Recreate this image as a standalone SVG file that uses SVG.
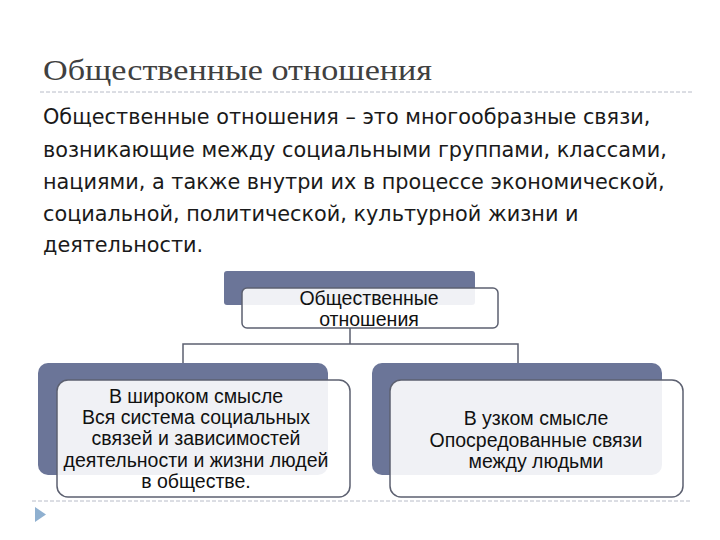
<svg xmlns="http://www.w3.org/2000/svg" width="720" height="540" viewBox="0 0 720 540">
<style>
.title{font-family:"Liberation Serif","DejaVu Serif",serif;font-size:30px;fill:#404040}
.body{font-family:"DejaVu Sans","Noto Sans",sans-serif;font-size:20.8px;fill:#1a1a1a}
.nt{font-family:"Liberation Sans",Arial,sans-serif;font-size:19.5px;fill:#111;text-anchor:middle}
.back{fill:#6b7598}
.front{fill:#ffffff;fill-opacity:0.9;stroke:#5c6070;stroke-width:1.5}
.conn{stroke:#5c6070;stroke-width:1.5;fill:none}
.dash{stroke:#b8bcc8;stroke-width:1;stroke-dasharray:4 2;fill:none}
</style>
<rect width="720" height="540" fill="#ffffff"/>
<text class="title" x="43" y="80" textLength="389" lengthAdjust="spacingAndGlyphs">Общественные отношения</text>
<line class="dash" x1="40" y1="92" x2="692" y2="92"/>
<g id="definition">
<text class="body" x="43" y="124">Общественные отношения – это многообразные связи,</text>
<text class="body" x="43" y="157">возникающие между социальными группами, классами,</text>
<text class="body" x="43" y="189">нациями, а также внутри их в процессе экономической,</text>
<text class="body" x="43" y="221">социальной, политической, культурной жизни и</text>
<text class="body" x="43" y="252">деятельности.</text>
</g>
<g id="connectors">
<path class="conn" d="M350 328 V344 M183 344 H518 M183 343.3 V364 M518 343.3 V364"/>
</g>
<g id="node-root">
<rect class="back" x="224" y="271" width="251" height="34" rx="3"/>
<rect class="front" x="242" y="288" width="256" height="40" rx="5"/>
<text class="nt" x="369" y="305">Общественные</text>
<text class="nt" x="369" y="326">отношения</text>
</g>
<g id="node-broad">
<rect class="back" x="38" y="363" width="290" height="112" rx="10"/>
<rect class="front" x="57" y="380" width="293" height="117" rx="11"/>
<text class="nt" x="196" y="403">В широком смысле</text>
<text class="nt" x="196" y="424">Вся система социальных</text>
<text class="nt" x="196" y="445">связей и зависимостей</text>
<text class="nt" x="196" y="467">деятельности и жизни людей</text>
<text class="nt" x="196" y="488">в обществе.</text>
</g>
<g id="node-narrow">
<rect class="back" x="372" y="363" width="290" height="112" rx="10"/>
<rect class="front" x="390" y="380" width="293" height="117" rx="11"/>
<text class="nt" x="536" y="425">В узком смысле</text>
<text class="nt" x="536" y="447">Опосредованные связи</text>
<text class="nt" x="536" y="468">между людьми</text>
</g>
<line class="dash" x1="32" y1="501" x2="692" y2="501"/>
<polygon points="35,507 46,514.5 35,522" fill="#8fb0d0"/>
</svg>
